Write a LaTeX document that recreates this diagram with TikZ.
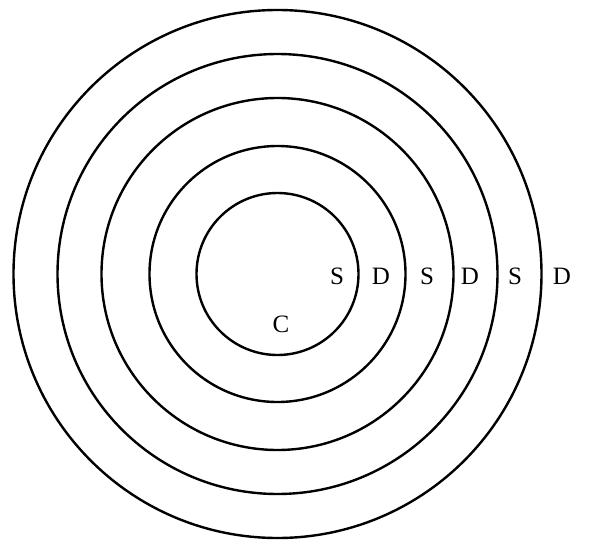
\documentclass[tikz,border=0pt]{standalone}
\usepackage{fontspec}
\setmainfont{Liberation Serif}
\begin{document}
\begin{tikzpicture}[x=1pt,y=-1pt,
  ring/.style={draw=black,line width=2.4pt},
  lab/.style={font=\fontsize{25}{25}\selectfont,inner sep=0pt,anchor=center}]
\useasboundingbox (0,0) rectangle (590,541);
\coordinate (O) at (277.5,274);
\foreach \r in {81,128,176,220,264}
  \draw[ring] (O) circle[radius=\r];
\node[lab] (s1) at (337,276) {S};
\node[lab] (d1) at (381,276) {D};
\node[lab] (s2) at (427,276) {S};
\node[lab] (d2) at (470,276) {D};
\node[lab] (s3) at (515,276) {S};
\node[lab] (d3) at (562,276) {D};
\node[lab] (c) at (281,324) {C};
\end{tikzpicture}
\end{document}
